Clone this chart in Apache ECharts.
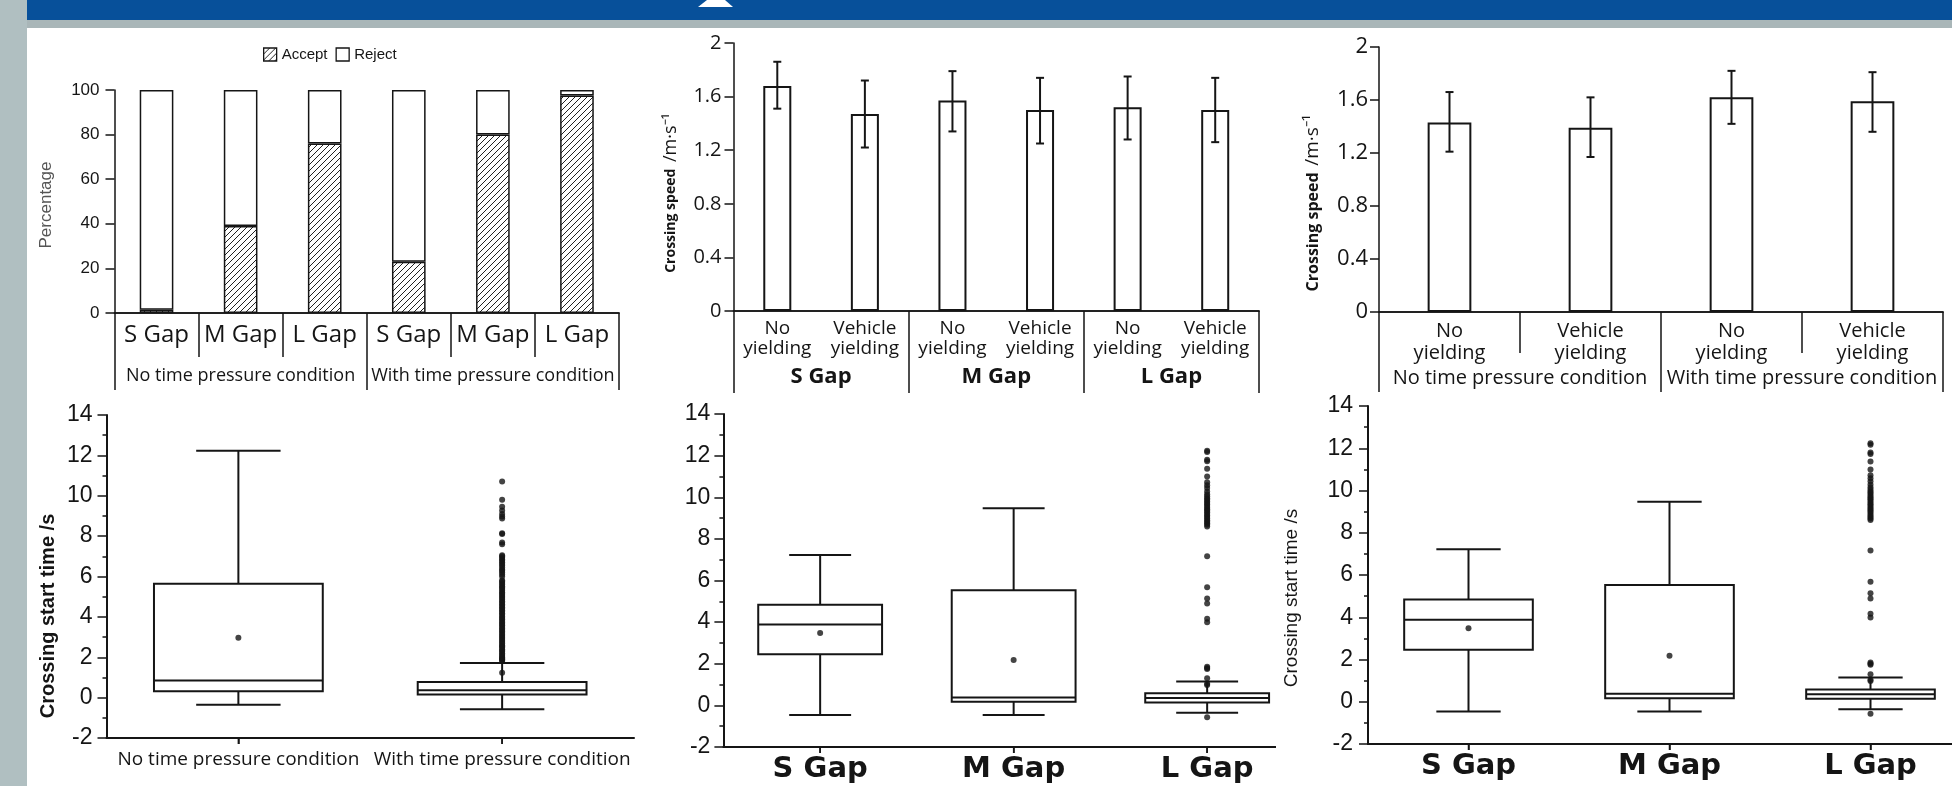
<!DOCTYPE html>
<html><head><meta charset="utf-8">
<script src="https://cdn.jsdelivr.net/npm/echarts@6/dist/echarts.min.js"></script>
<style>html,body{margin:0;padding:0;background:#fff}#c{width:1952px;height:786px}</style>
</head><body><div id="c"></div>
<script>
// ---------- data ----------
const gapCats = ['S Gap', 'M Gap', 'L Gap', 'S Gap', 'M Gap', 'L Gap'];
const conditionCats = ['No time pressure condition', 'With time pressure condition'];
const acceptPct = [1.5, 39, 76, 23, 80, 97.5];
const rejectPct = [98.5, 61, 24, 77, 20, 2.5];

const yieldCats6 = ['No\nyielding', 'Vehicle\nyielding', 'No\nyielding', 'Vehicle\nyielding', 'No\nyielding', 'Vehicle\nyielding'];
const gapGroups = ['S Gap', 'M Gap', 'L Gap'];
const speedByGap = [1.68, 1.47, 1.57, 1.50, 1.52, 1.50];
const speedByGapLow = [1.51, 1.22, 1.34, 1.25, 1.28, 1.26];
const speedByGapHigh = [1.86, 1.72, 1.79, 1.74, 1.75, 1.74];

const yieldCats4 = ['No\nyielding', 'Vehicle\nyielding', 'No\nyielding', 'Vehicle\nyielding'];
const speedByCond = [1.43, 1.39, 1.62, 1.59];
const speedByCondLow = [1.21, 1.17, 1.42, 1.36];
const speedByCondHigh = [1.66, 1.62, 1.82, 1.81];

// start-time axis range
const startMin = -2, startMax = 14, startStep = 2;
// box stats: [min, Q1, median, Q3, max]
const startByCondBox = [[-0.35, 0.31, 0.85, 5.64, 12.23], [-0.57, 0.15, 0.37, 0.78, 1.72]];
const startByCondMean = [2.97];
const startByCondOutliers = [1.23, 1.82, 1.86, 1.9, 1.95, 2.0, 2.06, 2.12, 2.2, 2.27, 2.33, 2.4, 2.48, 2.55, 2.6, 2.68, 2.75, 2.82, 2.9, 2.97, 3.05, 3.12, 3.2, 3.28, 3.35, 3.42, 3.5, 3.58, 3.65, 3.72, 3.8, 3.88, 3.95, 4.02, 4.1, 4.18, 4.25, 4.33, 4.4, 4.48, 4.55, 4.62, 4.7, 4.78, 4.85, 4.93, 5.0, 5.08, 5.15, 5.22, 5.3, 5.38, 5.45, 5.52, 5.6, 5.68, 5.75, 5.82, 6.0, 6.1, 6.2, 6.28, 6.35, 6.45, 6.55, 6.62, 6.7, 6.78, 6.85, 6.93, 7.0, 7.05, 7.6, 7.68, 8.1, 8.14, 8.87, 8.97, 9.1, 9.27, 9.46, 9.8, 10.7];

const startByGapBox = [[-0.46, 2.46, 3.88, 4.84, 7.22], [-0.46, 0.17, 0.38, 5.53, 9.47], [-0.36, 0.14, 0.36, 0.58, 1.15]];
const startByGapMean = [3.48, 2.18];
const startByGapOutliers = [-0.57, 0.98, 1.04, 1.3, 1.75, 1.8, 1.86, 3.99, 4.16, 4.89, 5.14, 5.68, 7.16, 8.6, 8.68, 8.75, 8.82, 8.9, 8.98, 9.05, 9.12, 9.2, 9.28, 9.35, 9.42, 9.5, 9.58, 9.65, 9.72, 9.8, 9.88, 9.95, 10.05, 10.15, 10.28, 10.44, 10.58, 10.72, 11.0, 11.37, 11.73, 11.8, 12.17, 12.24];

// ---------- helpers ----------
const INK = '#151515';
function hatch() {
  const c = document.createElement('canvas'); c.width = 6; c.height = 6;
  const g = c.getContext('2d');
  g.fillStyle = '#fff'; g.fillRect(0, 0, 6, 6);
  g.strokeStyle = '#222'; g.lineWidth = 1;
  g.beginPath();
  g.moveTo(-1, 7); g.lineTo(7, -1);
  g.moveTo(-1, 1); g.lineTo(1, -1);
  g.moveTo(5, 7); g.lineTo(7, 5);
  g.stroke();
  return c;
}
const hatchFill = { image: hatch(), repeat: 'repeat' };
const axLine = { show: true, onZero: false, lineStyle: { color: INK, width: 1.5 } };
const axLineBold = { show: true, onZero: false, lineStyle: { color: INK, width: 2 } };
const tickStyle = { color: INK, width: 1.5 };
function ln(x1, y1, x2, y2, w) {
  return { type: 'line', shape: { x1, y1, x2, y2 }, style: { stroke: INK, lineWidth: w || 2 } };
}
function boxItem(params, api) {
  const i = api.value(0);
  const p = k => api.coord([i, api.value(k)]);
  const lo = p(1), q1 = p(2), md = p(3), q3 = p(4), hi = p(5);
  const bw = api.size([1, 0])[0] * 0.64;
  const cx = lo[0];
  return { type: 'group', children: [
    ln(cx, hi[1], cx, q3[1]),
    ln(cx, q1[1], cx, lo[1]),
    ln(cx - bw / 4, hi[1], cx + bw / 4, hi[1]),
    ln(cx - bw / 4, lo[1], cx + bw / 4, lo[1]),
    { type: 'rect', shape: { x: cx - bw / 2, y: q3[1], width: bw, height: q1[1] - q3[1] }, style: { stroke: INK, fill: '#fff', lineWidth: 2 } },
    ln(cx - bw / 2, md[1], cx + bw / 2, md[1])
  ] };
}
function errItem(params, api) {
  const i = api.value(0);
  const a = api.coord([i, api.value(1)]), b = api.coord([i, api.value(2)]);
  const h = 4;
  return { type: 'group', children: [
    ln(a[0], a[1], b[0], b[1]), ln(a[0] - h, a[1], a[0] + h, a[1]), ln(b[0] - h, b[1], b[0] + h, b[1])
  ] };
}
function yVal(grid, min, max, interval, font, size, margin, minor) {
  const o = {
    gridIndex: grid, type: 'value', min, max, interval,
    axisLine: minor ? axLineBold : axLine,
    axisTick: { show: true, length: 9, lineStyle: tickStyle },
    splitLine: { show: false },
    axisLabel: { fontFamily: font, fontSize: size, color: INK, margin }
  };
  if (minor) o.minorTick = { show: true, splitNumber: 2, length: 4, lineStyle: tickStyle };
  return o;
}
function xCat(grid, data, tick, label, line) {
  return {
    gridIndex: grid, type: 'category', position: 'bottom', data,
    axisLine: line || axLine,
    axisTick: Object.assign({ lineStyle: tickStyle }, tick),
    axisLabel: Object.assign({ interval: 0, color: INK }, label),
    splitLine: { show: false }
  };
}
const pairs = (idx, arr) => arr.map(v => [idx, v]);

const decor = [
  { type: 'rect', z: -1, shape: { x: 0, y: 0, width: 1952, height: 20 }, style: { fill: '#07509a' } },
  { type: 'rect', z: -1, shape: { x: 0, y: 20, width: 1952, height: 8 }, style: { fill: '#a9b6b8' } },
  { type: 'rect', z: -1, shape: { x: 0, y: 0, width: 27, height: 786 }, style: { fill: '#b0bfc1' } },
  { type: 'polygon', z: 1, shape: { points: [[698, 7], [707, 0], [725, 0], [733, 7]] }, style: { fill: '#fff' } },
  { type: 'text', z: 10, x: 46, y: 205, rotation: Math.PI / 2,
    style: { text: 'Percentage', fontFamily: 'Liberation Sans', fontSize: 17, fill: '#555', align: 'center', verticalAlign: 'middle' } },
  { type: 'text', z: 10, x: 671, y: 193, rotation: Math.PI / 2,
    style: { text: '{a|Crossing speed}  {b|/m·s⁻¹}', align: 'center', verticalAlign: 'middle',
      rich: { a: { fontFamily: 'Open Sans', fontWeight: 'bold', fontSize: 14, fill: INK },
              b: { fontFamily: 'Open Sans', fontSize: 18, fill: INK } } } },
  { type: 'text', z: 10, x: 1313, y: 203, rotation: Math.PI / 2,
    style: { text: '{a|Crossing speed}  {b|/m·s⁻¹}', align: 'center', verticalAlign: 'middle',
      rich: { a: { fontFamily: 'Open Sans', fontWeight: 'bold', fontSize: 16, fill: INK },
              b: { fontFamily: 'Open Sans', fontSize: 19, fill: INK } } } },
  { type: 'text', z: 10, x: 48, y: 616, rotation: Math.PI / 2,
    style: { text: 'Crossing start time /s', fontFamily: 'Liberation Sans', fontWeight: 'bold', fontSize: 20, fill: INK, align: 'center', verticalAlign: 'middle' } }
];

const option = {
  animation: false,
  backgroundColor: '#fff',
  grid: [
    { left: 114.5, top: 90, width: 504.5, height: 223, outerBoundsMode: 'none' },
    { left: 733.5, top: 43, width: 525.5, height: 268, outerBoundsMode: 'none' },
    { left: 1379, top: 47, width: 564, height: 265, outerBoundsMode: 'none' },
    { left: 106.5, top: 415, width: 527.5, height: 323, outerBoundsMode: 'none' },
    { left: 723.4, top: 414, width: 580.5, height: 333, outerBoundsMode: 'none' },
    { left: 1368, top: 406, width: 603, height: 338, outerBoundsMode: 'none' }
  ],
  legend: {
    data: ['Accept', 'Reject'], left: 258, top: 42, itemWidth: 13, itemHeight: 13, itemGap: 8,
    icon: 'rect', selectedMode: false,
    itemStyle: { borderColor: INK, borderWidth: 1.3 },
    textStyle: { fontFamily: 'Liberation Sans', fontSize: 15, color: INK }
  },
  xAxis: [
    xCat(0, gapCats, { show: true, interval: 0, length: 44 }, { fontFamily: 'Open Sans', fontSize: 24, margin: 10 }),
    xCat(0, conditionCats, { show: true, interval: 0, length: 77 }, { fontFamily: 'Open Sans', fontSize: 18, margin: 54 }),
    xCat(1, yieldCats6, { show: false }, { fontFamily: 'Open Sans', fontSize: 19, lineHeight: 20, margin: 8 }),
    xCat(1, gapGroups, { show: true, interval: 0, length: 82 }, { fontFamily: 'Open Sans', fontWeight: 'bold', fontSize: 22, margin: 55 }),
    xCat(2, yieldCats4, { show: true, interval: 0, length: 41 }, { fontFamily: 'Open Sans', fontSize: 20, lineHeight: 22, margin: 8 }),
    xCat(2, conditionCats, { show: true, interval: 0, length: 80 }, { fontFamily: 'Open Sans', fontSize: 20, margin: 56 }),
    xCat(3, conditionCats, { show: true, alignWithLabel: true, length: 6 }, { fontFamily: 'Open Sans', fontSize: 19, margin: 12 }, axLineBold),
    xCat(4, gapGroups, { show: true, alignWithLabel: true, length: 6 }, { fontFamily: 'DejaVu Sans', fontWeight: 'bold', fontSize: 29, margin: 8 }, axLineBold),
    xCat(5, gapGroups, { show: true, alignWithLabel: true, length: 6 }, { fontFamily: 'DejaVu Sans', fontWeight: 'bold', fontSize: 29, margin: 8 }, axLineBold)
  ],
  yAxis: [
    yVal(0, 0, 100, 20, 'Liberation Sans', 17, 15),
    yVal(1, 0, 2, 0.4, 'Open Sans', 20, 12),
    yVal(2, 0, 2, 0.4, 'Open Sans', 22, 11),
    yVal(3, startMin, startMax, startStep, 'Liberation Sans', 23, 14, true),
    yVal(4, startMin, startMax, startStep, 'Liberation Sans', 23, 13, true),
    yVal(5, startMin, startMax, startStep, 'Liberation Sans', 23, 15, true)
  ],
  series: [
    { type: 'bar', name: 'Accept', xAxisIndex: 0, yAxisIndex: 0, stack: 'p', data: acceptPct, barWidth: '40%',
      itemStyle: { color: hatchFill, borderColor: INK, borderWidth: 1.5 } },
    { type: 'bar', name: 'Reject', xAxisIndex: 0, yAxisIndex: 0, stack: 'p', data: rejectPct, barWidth: '40%',
      itemStyle: { color: '#fff', borderColor: INK, borderWidth: 1.5 } },

    { type: 'bar', xAxisIndex: 2, yAxisIndex: 1, data: speedByGap, barWidth: '32%',
      itemStyle: { color: '#fff', borderColor: INK, borderWidth: 2 } },
    { type: 'custom', xAxisIndex: 2, yAxisIndex: 1, z: 3, renderItem: errItem, encode: { x: 0, y: [1, 2] },
      data: speedByGapLow.map((l, i) => [i, l, speedByGapHigh[i]]) },

    { type: 'bar', xAxisIndex: 4, yAxisIndex: 2, data: speedByCond, barWidth: '31%',
      itemStyle: { color: '#fff', borderColor: INK, borderWidth: 2 } },
    { type: 'custom', xAxisIndex: 4, yAxisIndex: 2, z: 3, renderItem: errItem, encode: { x: 0, y: [1, 2] },
      data: speedByCondLow.map((l, i) => [i, l, speedByCondHigh[i]]) },

    { type: 'custom', xAxisIndex: 6, yAxisIndex: 3, renderItem: boxItem, encode: { x: 0, y: [1, 2, 3, 4, 5] },
      data: startByCondBox.map((b, i) => [i].concat(b)) },
    { type: 'scatter', xAxisIndex: 6, yAxisIndex: 3, z: 4, symbol: 'circle', symbolSize: 6, itemStyle: { color: INK },
      data: startByCondMean.map((m, i) => [i, m]).concat(pairs(1, startByCondOutliers)) },

    { type: 'custom', xAxisIndex: 7, yAxisIndex: 4, renderItem: boxItem, encode: { x: 0, y: [1, 2, 3, 4, 5] },
      data: startByGapBox.map((b, i) => [i].concat(b)) },
    { type: 'scatter', xAxisIndex: 7, yAxisIndex: 4, z: 4, symbol: 'circle', symbolSize: 6, itemStyle: { color: INK },
      data: startByGapMean.map((m, i) => [i, m]).concat(pairs(2, startByGapOutliers)) },

    { type: 'custom', xAxisIndex: 8, yAxisIndex: 5, renderItem: boxItem, encode: { x: 0, y: [1, 2, 3, 4, 5] },
      data: startByGapBox.map((b, i) => [i].concat(b)) },
    { type: 'scatter', xAxisIndex: 8, yAxisIndex: 5, z: 4, symbol: 'circle', symbolSize: 6, itemStyle: { color: INK },
      data: startByGapMean.map((m, i) => [i, m]).concat(pairs(2, startByGapOutliers)) }
  ],
  graphic: decor
};
const chart = echarts.init(document.getElementById('c'), null, { renderer: 'canvas' });
chart.setOption(option);

// Bottom axis baselines and category ticks, placed from the library's own axes (drawn on top).
const extra = [];
[[3, 6, 3, conditionCats, null], [4, 7, 4, gapGroups, 1274], [5, 8, 5, gapGroups, null]].forEach(([g, xi, yi, cats, clipX]) => {
  const rect = chart.getModel().getComponent('grid', g).coordinateSystem.getRect();
  const y = chart.convertToPixel({ yAxisIndex: yi }, startMin);
  const xEnd = clipX != null ? clipX : rect.x + rect.width;
  extra.push(Object.assign(ln(rect.x, y, xEnd, y, 2), { z: 200 }));
  cats.forEach((c, i) => {
    const x = chart.convertToPixel({ xAxisIndex: xi }, i);
    extra.push(Object.assign(ln(x, y, x, y + 6, 1.5), { z: 200 }));
  });
});
const finalGraphic = decor.concat([
  { type: 'rect', z: 150, shape: { x: 1276, y: 743, width: 30, height: 10 }, style: { fill: '#fff' } },
  { type: 'text', z: 210, x: 1292, y: 598, rotation: Math.PI / 2,
    style: { text: 'Crossing start time /s', fontFamily: 'Liberation Sans', fontSize: 19, fill: INK, align: 'center', verticalAlign: 'middle' } }
]).concat(extra);
chart.setOption({ graphic: finalGraphic }, { replaceMerge: ['graphic'] });
</script>
</body></html>
